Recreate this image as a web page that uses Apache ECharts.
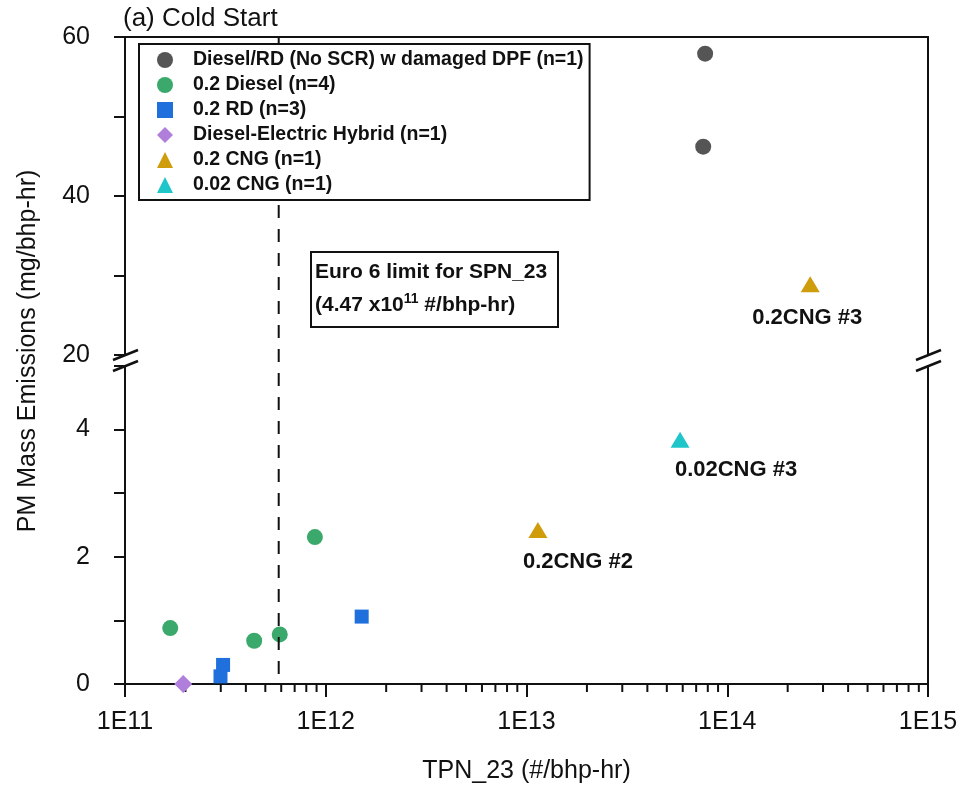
<!DOCTYPE html>
<html>
<head>
<meta charset="utf-8">
<script src="https://cdn.jsdelivr.net/npm/echarts@6/dist/echarts.min.js"></script>
<style>
  html, body { margin: 0; padding: 0; background: #fff; }
  #chart { width: 968px; height: 790px; }
</style>
</head>
<body>
<div id="chart"></div>
<script>
// values
const dpfX = [7.76e13, 7.59e13];
const dpfY = [57.9, 46.2];
const dieselX = [1.68e11, 4.40e11, 5.9e11, 8.83e11];
const dieselY = [0.88, 0.68, 0.78, 2.31];
const rdX = [2.99e11, 3.08e11, 1.51e12];
const rdY = [0.12, 0.30, 1.06];
const hybridX = [1.95e11];
const hybridY = [0.0];
const cngX = [1.14e13, 2.59e14];
const cngY = [2.42, 28.9];
const cngNames = ['0.2CNG #2', '0.2CNG #3'];
const cng02X = [5.82e13];
const cng02Y = [3.84];
const cng02Names = ['0.02CNG #3'];
const euroLimit = 5.83e11;
const upperTicks = [20, 30, 40, 50, 60];
const lowerTicks = [0, 1, 2, 3, 4, 5];
const minorX = [];
for (let e = 11; e < 15; e++) {
  for (let m = 2; m <= 9; m++) minorX.push(m * Math.pow(10, e));
}

const FONT = 'Liberation Sans, Arial, sans-serif';
const INK = '#111';
const BREAK = 20;

// label placement for the named points
const labelOffset = {
  '0.2CNG #2': [40, 13],
  '0.2CNG #3': [-3, 15],
  '0.02CNG #3': [56, 11]
};

const groups = [
  {name: 'Diesel/RD (No SCR) w damaged DPF (n=1)', x: dpfX, y: dpfY, color: '#555555', symbol: 'circle', size: 16},
  {name: '0.2 Diesel (n=4)', x: dieselX, y: dieselY, color: '#3aa96b', symbol: 'circle', size: 16},
  {name: '0.2 RD (n=3)', x: rdX, y: rdY, color: '#1f6fdc', symbol: 'rect', size: 14},
  {name: 'Diesel-Electric Hybrid (n=1)', x: hybridX, y: hybridY, color: '#b07fdc', symbol: 'diamond', size: [18, 18]},
  {name: '0.2 CNG (n=1)', x: cngX, y: cngY, names: cngNames, color: '#cf9c0c', symbol: 'triangle', size: [19, 16]},
  {name: '0.02 CNG (n=1)', x: cng02X, y: cng02Y, names: cng02Names, color: '#1fc6c9', symbol: 'triangle', size: [19, 16]}
];

function makePoint(g, i) {
  const item = {value: [g.x[i], g.y[i]]};
  const nm = g.names ? g.names[i] : null;
  if (nm) {
    item.name = nm;
    item.label = {
      show: true,
      formatter: nm,
      position: 'bottom',
      distance: 0,
      offset: labelOffset[nm],
      fontSize: 22,
      fontWeight: 'bold',
      color: INK,
      fontFamily: FONT
    };
  }
  return item;
}

const series = [];
groups.forEach(g => {
  const upper = [], lower = [];
  g.x.forEach((v, i) => {
    (g.y[i] >= BREAK ? upper : lower).push(makePoint(g, i));
  });
  [[upper, 0, 0], [lower, 1, 2]].forEach(([pts, xi, yi]) => {
    if (!pts.length) return;
    series.push({
      type: 'scatter',
      name: g.name,
      xAxisIndex: xi,
      yAxisIndex: yi,
      symbol: g.symbol,
      symbolSize: g.size,
      itemStyle: {color: g.color, opacity: 1},
      data: pts,
      z: 3
    });
  });
});

// minor ticks on the log axis
series.push({
  type: 'custom',
  xAxisIndex: 1,
  yAxisIndex: 2,
  clip: false,
  silent: true,
  z: 1,
  data: minorX.map(v => [v, 0]),
  renderItem: function (params, api) {
    const p = api.coord([api.value(0), 0]);
    return {
      type: 'line',
      shape: {x1: p[0], y1: p[1], x2: p[0], y2: p[1] + 8},
      style: {stroke: INK, lineWidth: 2}
    };
  }
});

const lineOnly = {show: true, lineStyle: {color: INK, width: 2}};

const option = {
  animation: false,
  textStyle: {fontFamily: FONT},
  title: {
    text: '(a) Cold Start',
    left: 123,
    top: 6,
    padding: 0,
    textStyle: {fontSize: 26, fontWeight: 'normal', color: INK, fontFamily: FONT}
  },
  legend: {
    data: groups.map(g => g.name),
    orient: 'vertical',
    left: 139,
    top: 44,
    itemWidth: 16,
    itemHeight: 16,
    itemGap: 5,
    symbolKeepAspect: true,
    padding: [6, 6, 5, 18],
    borderColor: INK,
    borderWidth: 2,
    backgroundColor: '#fff',
    selectedMode: false,
    z: 6,
    textStyle: {fontSize: 19.5, fontWeight: 'bold', color: INK, lineHeight: 20, padding: [0, 0, 0, 15], fontFamily: FONT}
  },
  grid: [
    {left: 125, right: 40, top: 37, height: 318},
    {left: 125, right: 40, top: 366, height: 318}
  ],
  xAxis: [
    {
      type: 'log', logBase: 10, gridIndex: 0, min: 1e11, max: 1e15, position: 'top',
      axisLine: lineOnly, axisTick: {show: false}, axisLabel: {show: false}, splitLine: {show: false}
    },
    {
      type: 'log', logBase: 10, gridIndex: 1, min: 1e11, max: 1e15, position: 'bottom',
      axisLine: {show: true, onZero: false, lineStyle: {color: INK, width: 2}},
      axisTick: {show: true, inside: false, length: 13, lineStyle: {color: INK, width: 2}},
      axisLabel: {
        fontSize: 25, color: INK, margin: 26, fontFamily: FONT,
        formatter: v => '1E' + Math.round(Math.log10(v))
      },
      splitLine: {show: false},
      name: 'TPN_23 (#/bhp-hr)',
      nameLocation: 'middle',
      nameGap: 75,
      nameTextStyle: {fontSize: 25, color: INK, fontFamily: FONT}
    }
  ],
  yAxis: [
    {
      type: 'value', gridIndex: 0, min: upperTicks[0], max: upperTicks[upperTicks.length - 1], interval: 10,
      axisLine: lineOnly,
      axisTick: {show: true, length: 11, lineStyle: {color: INK, width: 2}},
      axisLabel: {fontSize: 25, color: INK, margin: 35, fontFamily: FONT, formatter: v => (v % 20 === 0 ? String(v) : '')},
      splitLine: {show: false}
    },
    {
      type: 'value', gridIndex: 0, position: 'right', min: 20, max: 60,
      axisLine: lineOnly, axisTick: {show: false}, axisLabel: {show: false}, splitLine: {show: false}
    },
    {
      type: 'value', gridIndex: 1, min: lowerTicks[0], max: lowerTicks[lowerTicks.length - 1], interval: 1,
      axisLine: lineOnly,
      axisTick: {show: true, length: 11, lineStyle: {color: INK, width: 2}},
      axisLabel: {fontSize: 25, color: INK, margin: 35, fontFamily: FONT, formatter: v => (v % 2 === 0 && v < 5 ? String(v) : '')},
      splitLine: {show: false}
    },
    {
      type: 'value', gridIndex: 1, position: 'right', min: 0, max: 5,
      axisLine: lineOnly, axisTick: {show: false}, axisLabel: {show: false}, splitLine: {show: false}
    }
  ],
  series: series
};

const chart = echarts.init(document.getElementById('chart'));
chart.setOption(option);

// decorations placed with the chart's own scales
const xLim = chart.convertToPixel({xAxisIndex: 1}, euroLimit);
const xLeft = chart.convertToPixel({xAxisIndex: 1}, 1e11);
const xRight = chart.convertToPixel({xAxisIndex: 1}, 1e15);
const yTop = chart.convertToPixel({yAxisIndex: 0}, 60);
const yBottom = chart.convertToPixel({yAxisIndex: 2}, 0);
const yBreakHi = chart.convertToPixel({yAxisIndex: 0}, 20);
const yBreakLo = chart.convertToPixel({yAxisIndex: 2}, 5);

const graphics = [
  {
    type: 'line', z: 4, silent: true,
    shape: {x1: xLim, y1: yTop, x2: xLim, y2: yBottom},
    style: {stroke: INK, lineWidth: 2, lineDash: [13, 11]}
  },
  {
    type: 'text', z: 5, silent: true,
    x: 28, y: 351, rotation: Math.PI / 2,
    style: {text: 'PM Mass Emissions (mg/bhp-hr)', font: '25px ' + FONT, fill: INK, align: 'center', verticalAlign: 'middle'}
  },
  {
    type: 'group', z: 5, silent: true,
    children: [
      {type: 'rect', shape: {x: 311, y: 252, width: 247, height: 75}, style: {fill: '#fff', stroke: INK, lineWidth: 2}},
      {
        type: 'text', x: 315, y: 256,
        style: {
          text: '{b|Euro 6 limit for SPN_23}\n{b|(4.47 x10}{s|11}{b| #/bhp-hr)}',
          fill: INK,
          verticalAlign: 'top',
          rich: {
            b: {fontSize: 21, fontWeight: 'bold', fontFamily: FONT, lineHeight: 33, verticalAlign: 'middle', fill: INK},
            s: {fontSize: 14, fontWeight: 'bold', fontFamily: FONT, lineHeight: 15, verticalAlign: 'top', padding: [3, 0, 0, 0], fill: INK}
          }
        }
      }
    ]
  }
];

[xLeft, xRight].forEach(x => {
  graphics.push({
    type: 'rect', z: 4, silent: true,
    shape: {x: x - 3, y: yBreakHi + 1, width: 6, height: yBreakLo - yBreakHi - 2},
    style: {fill: '#fff'}
  });
  [yBreakHi, yBreakLo].forEach(y => {
    graphics.push({
      type: 'line', z: 5, silent: true,
      shape: {x1: x - 12, y1: y + 5, x2: x + 13, y2: y - 5},
      style: {stroke: INK, lineWidth: 2.5}
    });
  });
});

chart.setOption({graphic: graphics});
</script>
</body>
</html>
